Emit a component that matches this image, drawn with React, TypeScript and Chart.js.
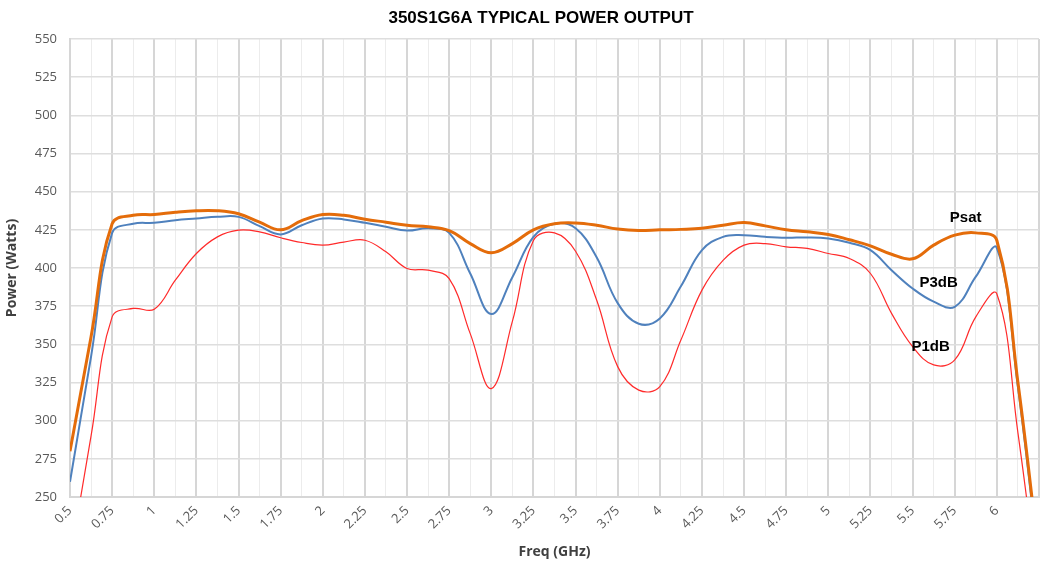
import React, { useEffect, useRef } from "react";
import { Chart, registerables } from "chart.js";

Chart.register(...registerables);

const TITLE = "350S1G6A TYPICAL POWER OUTPUT";
const X_TITLE = "Freq (GHz)";
const Y_TITLE = "Power (Watts)";

const freqs = [
  0.5, 0.625, 0.75, 0.875, 1, 1.125, 1.25, 1.375, 1.5, 1.625, 1.75, 1.875,
  2, 2.125, 2.25, 2.375, 2.5, 2.625, 2.75, 2.875, 3, 3.125, 3.25, 3.375,
  3.5, 3.625, 3.75, 3.875, 4, 4.125, 4.25, 4.375, 4.5, 4.625, 4.75, 4.875,
  5, 5.125, 5.25, 5.375, 5.5, 5.625, 5.75, 5.875, 6, 6.125, 6.25,
];

const psat = [
  280, 355, 429, 434.5, 435, 436.5, 437.5, 437.5, 435.5, 430, 425, 431,
  435, 434.5, 432, 430, 428, 427, 424.5, 416, 410, 416, 425, 429,
  429.5, 428, 425.5, 424.5, 425, 425.3, 426, 428, 429.8, 427.6, 425, 423.7,
  422, 418.5, 414.5, 409, 406, 415, 421.5, 423, 418, 325, 210,
];

const p3db = [
  260, 342, 423, 429, 429.6, 431.3, 432.4, 433.5, 433.5, 427.4, 422, 428,
  432.4, 431.8, 429.6, 427, 424.5, 426, 423, 396.4, 369.8, 394, 420.4, 429,
  426, 407, 377, 363.5, 367, 388, 411.7, 420.4, 421.5, 420.4, 419.8, 420,
  419.3, 416.5, 411.7, 398.6, 386.6, 378, 374.6, 394.3, 413, 322, 205,
];

const p1db = [
  208, 290, 368, 373.5, 373, 392, 409.5, 420.4, 424.8, 423.7, 419.8, 416.7,
  415, 417, 418.2, 410.6, 399.7, 398.6, 393, 357, 321, 365, 418, 423,
  411, 379, 335.4, 320, 322.3, 352.8, 385.5, 405, 415, 416, 413.9, 412.8,
  409.5, 406.2, 396.4, 370.3, 348.5, 336.5, 339.8, 368, 383, 292, 185,
];

// series label annotations (data coordinates)
const seriesLabels = [
  { text: "Psat", x: 5.815, y: 432.7 },
  { text: "P3dB", x: 5.654, y: 390.1 },
  { text: "P1dB", x: 5.607, y: 348.2 },
];

const toPoints = (vals: number[]) => freqs.map((f, i) => ({ x: f, y: vals[i] }));

const isMajor = (n: number) => Math.abs(n * 4 - Math.round(n * 4)) < 1e-9;

export default function App() {
  const ref = useRef<HTMLCanvasElement | null>(null);

  useEffect(() => {
    document.body.style.margin = "0";
    const canvas = ref.current;
    if (!canvas) return;

    const overlay = {
      id: "overlay",
      afterDraw(chart: any) {
        const { ctx, scales } = chart;
        ctx.save();
        ctx.fillStyle = "#000000";
        ctx.font = "bold 17px 'Liberation Sans', Arial, sans-serif";
        ctx.textAlign = "center";
        ctx.textBaseline = "middle";
        ctx.fillText(TITLE, 541, 18);
        ctx.font = "bold 15px 'Liberation Sans', Arial, sans-serif";
        for (const l of seriesLabels) {
          ctx.fillText(l.text, scales.x.getPixelForValue(l.x), scales.y.getPixelForValue(l.y));
        }
        ctx.restore();
      },
    };

    const chart = new Chart(canvas, {
      type: "line",
      data: {
        datasets: [
          {
            label: "Psat",
            data: toPoints(psat),
            borderColor: "#E46C0A",
            borderWidth: 3,
            pointRadius: 0,
            tension: 0.4,
            clip: 0,
          },
          {
            label: "P3dB",
            data: toPoints(p3db),
            borderColor: "#4F81BD",
            borderWidth: 2,
            pointRadius: 0,
            tension: 0.4,
            clip: 0,
          },
          {
            label: "P1dB",
            data: toPoints(p1db),
            borderColor: "#FF2A2A",
            borderWidth: 1.2,
            pointRadius: 0,
            tension: 0.4,
            clip: 0,
          },
        ],
      },
      plugins: [overlay],
      options: {
        responsive: false,
        animation: false,
        events: [],
        layout: { padding: { top: 39, left: 0, right: 2, bottom: 0 } },
        elements: { line: { capBezierPoints: false } },
        plugins: {
          legend: { display: false },
          tooltip: { enabled: false },
          title: { display: false },
        },
        scales: {
          x: {
            type: "linear",
            min: 0.5,
            max: 6.25,
            afterFit: (s: any) => {
              s.height = 66;
              s.paddingRight = 0;
            },
            ticks: {
              stepSize: 0.125,
              autoSkip: false,
              minRotation: 45,
              maxRotation: 45,
              padding: 6,
              color: "#595959",
              font: { family: "'Open Sans', sans-serif", size: 13 },
              callback: (v: any) => {
                const n = Number(v);
                if (isMajor(n) && n < 6.2) return String(n);
                return "";
              },
            },
            grid: {
              drawTicks: false,
              color: (c: any) => (isMajor(c.tick ? c.tick.value : 0) ? "#d6d6d6" : "#ececec"),
              lineWidth: (c: any) => (isMajor(c.tick ? c.tick.value : 0) ? 2 : 1),
            },
            border: { color: "#d6d6d6", width: 2 },
            title: {
              display: true,
              text: X_TITLE,
              color: "#404040",
              font: { family: "'Open Sans', sans-serif", size: 14, weight: "bold" },
              padding: { top: 4, bottom: 3 },
            },
          },
          y: {
            min: 250,
            max: 550,
            afterFit: (s: any) => {
              s.width = 70;
            },
            ticks: {
              stepSize: 25,
              padding: 13,
              color: "#595959",
              font: { family: "'Open Sans', sans-serif", size: 13 },
            },
            grid: {
              drawTicks: false,
              color: "#dedede",
              lineWidth: 1.5,
            },
            border: { color: "#d6d6d6", width: 2 },
            title: {
              display: true,
              text: Y_TITLE,
              color: "#404040",
              font: { family: "'Open Sans', sans-serif", size: 14, weight: "bold" },
              padding: { top: 4, bottom: 4 },
            },
          },
        },
      } as any,
    });

    return () => chart.destroy();
  }, []);

  return (
    <div style={{ width: 1041, height: 563 }}>
      <canvas ref={ref} width={1041} height={563} style={{ width: 1041, height: 563 }} />
    </div>
  );
}
